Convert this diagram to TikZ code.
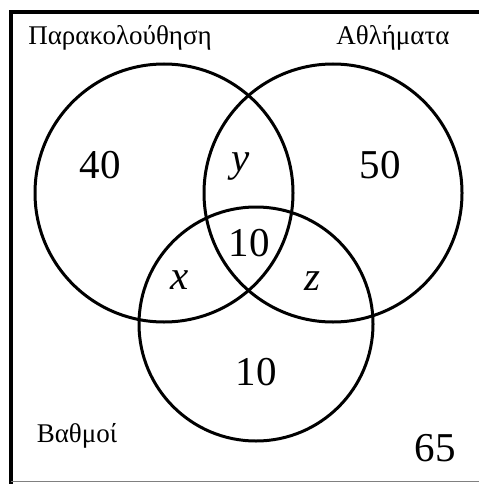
\documentclass[tikz,border=0pt]{standalone}
\usepackage{fontspec}
\setmainfont{Liberation Serif}
\usetikzlibrary{positioning}
\begin{document}
\begin{tikzpicture}[x=1pt,y=-1pt,
    setcircle/.style={draw,circle,line width=3pt,inner sep=0pt},
    setlabel/.style={font=\fontsize{27}{27}\selectfont},
    count/.style={font=\fontsize{41}{41}\selectfont}]
  \useasboundingbox (0,0) rectangle (479,484);
  % frame
  \draw[line width=4pt] (11,484) -- (11,12) -- (479,12);
  \draw[gray,line width=1pt] (11,481) -- (479,481);
  % sets
  \node[setcircle,minimum size=258pt] (watch) at (164,193) {};
  \node[setcircle,minimum size=258pt] (sport) at (333,193) {};
  \node[setcircle,minimum size=234pt] (grade) at (256,324) {};
  % set names
  \node[setlabel] (watchname) at (120,38) {Παρακολούθηση};
  \node[setlabel] (sportname) at (393,38) {Αθλήματα};
  \node[setlabel] (gradename) at (77,436) {Βαθμοί};
  % counts
  \node[count] (onlywatch) at (100,165) {40};
  \node[count] (onlysport) at (380,165) {50};
  \node[count] (onlygrade) at (256,372) {10};
  \node[count] (all) at (249,243) {10};
  \node[count] (ws) at (241,167) {\textit{y}};
  \node[count] (wg) at (180,280) {\textit{x}};
  \node[count] (sg) at (312,281) {\textit{z}};
  \node[count] (none) at (435,448) {65};
\end{tikzpicture}
\end{document}
